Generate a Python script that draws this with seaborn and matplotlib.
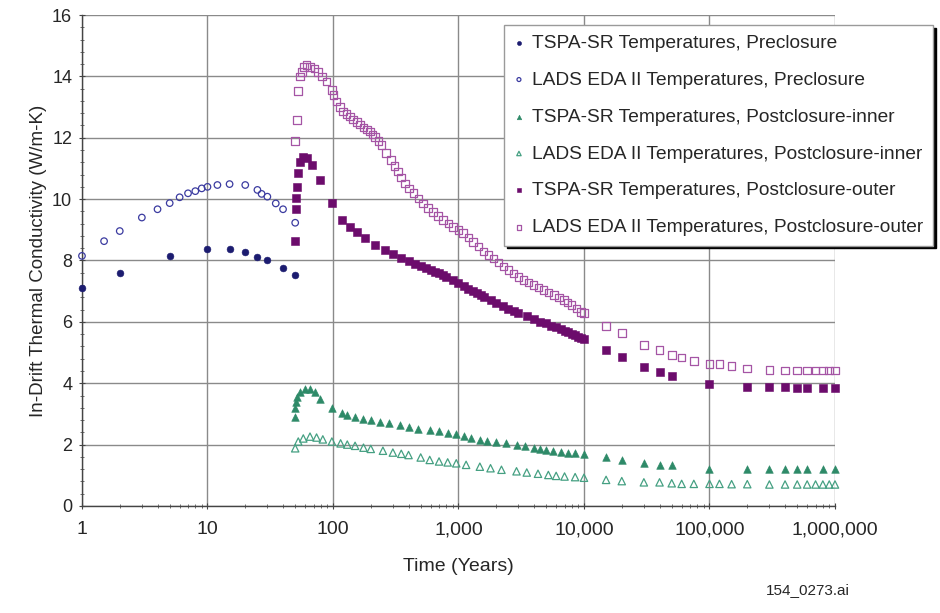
import pandas as pd
import seaborn as sns
import matplotlib.pyplot as plt
from matplotlib.ticker import LogLocator, FuncFormatter, MultipleLocator, NullFormatter

# ---- data (time in years, conductivity in W/m-K) ----
tspa_pre_t = [1, 2, 5, 10, 15, 20, 25, 30, 40, 50]
tspa_pre_k = [7.1, 7.6, 8.15, 8.37, 8.37, 8.27, 8.1, 8.0, 7.75, 7.52]

lads_pre_t = [1, 1.5, 2, 3, 4, 5, 6, 7, 8, 9, 10, 12, 15, 20, 25, 27, 30, 35, 40, 50]
lads_pre_k = [8.15, 8.63, 8.96, 9.4, 9.67, 9.87, 10.06, 10.19, 10.26, 10.35, 10.4,
              10.46, 10.49, 10.46, 10.3, 10.17, 10.08, 9.86, 9.67, 9.23]

tspa_in_t = [50, 50, 50.5, 51.5, 54.4, 59.7, 65.6, 72, 78.8, 98, 117, 130, 150, 175,
             200, 236, 280, 343, 400, 480, 590, 700, 820, 960, 1100, 1250, 1480, 1700,
             2000, 2400, 2900, 3400, 4000, 4500, 5000, 5700, 6500, 7500, 8500, 10000,
             15000, 20000, 30000, 40000, 50000, 100000, 200000, 300000, 400000,
             500000, 600000, 800000, 1000000]
tspa_in_k = [2.91, 3.18, 3.4, 3.56, 3.72, 3.81, 3.8, 3.72, 3.5, 3.18, 3.02, 2.97, 2.9,
             2.84, 2.8, 2.75, 2.7, 2.64, 2.58, 2.52, 2.48, 2.43, 2.39, 2.33, 2.28,
             2.23, 2.16, 2.12, 2.08, 2.04, 1.99, 1.95, 1.9, 1.86, 1.83, 1.8, 1.77,
             1.74, 1.71, 1.68, 1.61, 1.5, 1.41, 1.34, 1.34, 1.22, 1.22, 1.22, 1.22,
             1.22, 1.22, 1.22, 1.22]

lads_in_t = [50, 52.9, 58, 65.6, 74, 83, 98, 115, 130, 150, 175, 200, 250, 300, 350,
             400, 500, 590, 700, 820, 960, 1150, 1480, 1800, 2200, 2900, 3500, 4300,
             5200, 6000, 7000, 8500, 10000, 15000, 20000, 30000, 40000, 50000, 60000,
             75000, 100000, 120000, 150000, 200000, 300000, 400000, 500000, 600000,
             700000, 800000, 900000, 1000000]
lads_in_k = [1.88, 2.1, 2.2, 2.26, 2.23, 2.17, 2.1, 2.04, 2.0, 1.96, 1.9, 1.86, 1.8,
             1.74, 1.7, 1.66, 1.58, 1.5, 1.45, 1.42, 1.39, 1.34, 1.28, 1.23, 1.18,
             1.13, 1.09, 1.05, 1.01, 0.98, 0.96, 0.94, 0.92, 0.85, 0.81, 0.77, 0.77,
             0.74, 0.72, 0.72, 0.72, 0.72, 0.71, 0.71, 0.7, 0.7, 0.7, 0.7, 0.7, 0.7,
             0.7, 0.7]

tspa_out_t = [50, 50.5, 51, 51.5, 53, 55, 58, 62, 68, 79, 98, 117, 136, 155, 180, 217,
              260, 300, 350, 400, 450, 500, 550, 600, 650, 700, 750, 800, 900, 1000,
              1100, 1200, 1300, 1400, 1500, 1600, 1800, 2000, 2250, 2500, 2750, 3000,
              3500, 4000, 4500, 5000, 5500, 6000, 6500, 7000, 7500, 8000, 8500, 9000,
              9500, 10000, 15000, 20000, 30000, 40000, 50000, 100000, 200000, 300000,
              400000, 500000, 600000, 800000, 1000000]
tspa_out_k = [8.63, 9.67, 10.05, 10.4, 10.85, 11.2, 11.38, 11.33, 11.11, 10.62, 9.86,
              9.32, 9.1, 8.94, 8.72, 8.5, 8.34, 8.2, 8.07, 7.97, 7.89, 7.82, 7.76, 7.7,
              7.64, 7.58, 7.52, 7.47, 7.36, 7.26, 7.16, 7.08, 7.0, 6.93, 6.87, 6.81,
              6.71, 6.62, 6.52, 6.43, 6.36, 6.29, 6.18, 6.09, 6.01, 5.95, 5.88, 5.82,
              5.76, 5.71, 5.66, 5.61, 5.56, 5.52, 5.48, 5.43, 5.08, 4.84, 4.54, 4.38,
              4.24, 3.97, 3.89, 3.89, 3.88, 3.86, 3.86, 3.85, 3.83]

lads_out_t = [50, 51.4, 52.9, 54.6, 56.4, 58.5, 61.7, 65.6, 71, 76, 81.6, 89, 98, 101,
              107, 114, 120, 128, 136, 145, 155, 165, 175, 186, 197, 207, 217, 230,
              244, 265, 290, 310, 331, 350, 375, 405, 437, 480, 522, 570, 625, 690,
              754, 830, 907, 1000, 1090, 1200, 1310, 1440, 1580, 1740, 1900, 2090,
              2290, 2500, 2750, 3000, 3300, 3600, 3970, 4350, 4770, 5200, 5740, 6300,
              6900, 7400, 7960, 8700, 9500, 10000, 15000, 20000, 30000, 40000, 50000,
              60000, 75000, 100000, 120000, 150000, 200000, 300000, 400000, 500000,
              600000, 700000, 800000, 900000, 1000000]
lads_out_k = [11.9, 12.58, 13.53, 14.0, 14.15, 14.3, 14.37, 14.31, 14.26, 14.15, 13.99,
              13.83, 13.56, 13.39, 13.18, 13.0, 12.85, 12.77, 12.69, 12.6, 12.52,
              12.43, 12.34, 12.27, 12.2, 12.11, 12.03, 11.9, 11.76, 11.5, 11.27,
              11.08, 10.9, 10.7, 10.51, 10.35, 10.19, 10.02, 9.86, 9.72, 9.59, 9.45,
              9.32, 9.2, 9.1, 9.0, 8.89, 8.75, 8.61, 8.45, 8.29, 8.18, 8.07, 7.93, 7.8,
              7.69, 7.58, 7.47, 7.36, 7.28, 7.2, 7.12, 7.04, 6.96, 6.88, 6.8, 6.71,
              6.63, 6.55, 6.44, 6.33, 6.28, 5.86, 5.63, 5.25, 5.08, 4.92, 4.84, 4.73,
              4.63, 4.63, 4.56, 4.48, 4.43, 4.41, 4.41, 4.41, 4.41, 4.41, 4.41, 4.41]

xtick_vals = [1, 10, 100, 1000, 10000, 100000, 1000000]

series = [
    ("TSPA-SR Temperatures, Preclosure", tspa_pre_t, tspa_pre_k, "o", "#1c1c70", True, 24),
    ("LADS EDA II Temperatures, Preclosure", lads_pre_t, lads_pre_k, "o", "#3b3ba0", False, 22),
    ("TSPA-SR Temperatures, Postclosure-inner", tspa_in_t, tspa_in_k, "^", "#2e8a68", True, 30),
    ("LADS EDA II Temperatures, Postclosure-inner", lads_in_t, lads_in_k, "^", "#45a082", False, 28),
    ("TSPA-SR Temperatures, Postclosure-outer", tspa_out_t, tspa_out_k, "s", "#6c0c6c", True, 30),
    ("LADS EDA II Temperatures, Postclosure-outer", lads_out_t, lads_out_k, "s", "#a555a5", False, 30),
]

sns.set_theme(style="white")
plt.rcParams["font.family"] = ["Liberation Sans", "DejaVu Sans"]

fig = plt.figure(figsize=(9.4, 6.13), dpi=100)
ax = fig.add_axes([0.0872, 0.1746, 0.8011, 0.8009])

for name, t, k, mk, col, filled, sz in series:
    df = pd.DataFrame({"t": t, "k": k})
    if filled:
        sns.scatterplot(data=df, x="t", y="k", ax=ax, marker=mk, s=sz, color=col,
                        edgecolor=col, linewidth=0.4, label=name, clip_on=False, zorder=3)
    else:
        sns.scatterplot(data=df, x="t", y="k", ax=ax, marker=mk, s=sz, color=col,
                        facecolor="none", edgecolor=col, linewidth=0.9, label=name,
                        clip_on=False, zorder=3)

ax.set_xscale("log")
ax.set_xlim(1, 1e6)
ax.set_ylim(0, 16)
ax.xaxis.set_major_locator(LogLocator(base=10))
ax.xaxis.set_minor_locator(LogLocator(base=10, subs=range(2, 10)))
ax.xaxis.set_minor_formatter(NullFormatter())
ax.set_xticks(xtick_vals)
ax.xaxis.set_major_formatter(FuncFormatter(lambda v, p: f"{v:,.0f}"))
ax.yaxis.set_major_locator(MultipleLocator(2))
ax.yaxis.set_minor_locator(MultipleLocator(0.4))

ax.grid(True, which="major", color="#8a8a8a", linewidth=1.0)
for side in ["top", "right"]:
    ax.spines[side].set_visible(False)
for side in ["left", "bottom"]:
    ax.spines[side].set_color("#444444")
    ax.spines[side].set_linewidth(1.0)

ax.tick_params(axis="both", which="major", length=4, width=0.8,
               color="#444444", direction="inout", bottom=True, left=True)
ax.tick_params(axis="x", which="major", pad=9, labelsize=14)
ax.tick_params(axis="y", which="major", pad=5, labelsize=13)
ax.tick_params(axis="both", which="minor", length=3, width=0.6, color="#555555",
               direction="inout", bottom=True, left=True)

ax.set_xlabel("Time (Years)", fontsize=14, labelpad=14)
ax.set_ylabel("In-Drift Thermal Conductivity (W/m-K)", fontsize=13.5, labelpad=4)

leg = ax.legend(loc="upper left", bbox_to_anchor=(504 / 940, 1 - 25 / 613),
                bbox_transform=fig.transFigure, borderaxespad=0, fontsize=13.8,
                frameon=True, fancybox=False, shadow={"color": "black", "alpha": 1},
                handlelength=0.6, handletextpad=0.4, labelspacing=1.02,
                borderpad=0.48, markerscale=0.6)
leg.get_frame().set_edgecolor("#9a9a9a")
leg.get_frame().set_linewidth(1.0)
leg.get_frame().set_facecolor("white")
leg.set_zorder(5)

fig.text(808 / 940, 1 - 590 / 613, "154_0273.ai", ha="center", va="center", fontsize=11)

fig.savefig("out.png", dpi=100)
plt.close("all")
